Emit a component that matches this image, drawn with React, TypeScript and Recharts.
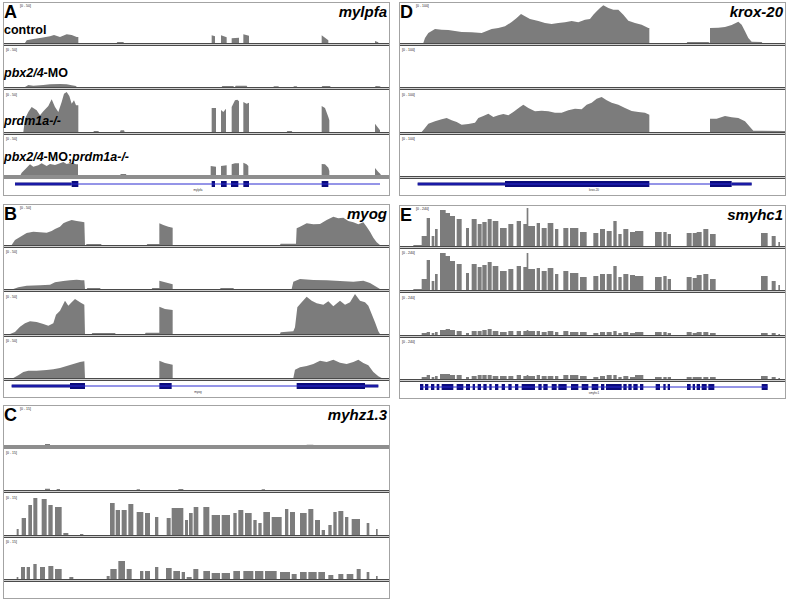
import React from 'react';
import { AreaChart, Area, XAxis, YAxis, ComposedChart, Line, ReferenceArea, ReferenceLine } from 'recharts';

type Pt = [number, number];
type Span = [number, number];
type Seg3 = [number, number, number];

// read coverage: [genomic position, depth]

// A  mylpfa
const mylpfaControl: Pt[] = [
  [75, 0], [80, 8], [100, 12], [125, 16], [150, 20], [162, 24], [180, 18], [200, 26], [215, 24], [230, 18], [235, 18], [235, 0],
  [350, 0], [352, 3], [370, 3], [372, 0],
  [635, 0], [635, 23], [645, 20], [645, 0], [663, 0], [663, 23], [680, 17], [680, 0], [695, 0], [695, 14], [717, 16], [717, 0],
  [730, 0], [730, 26], [747, 22], [747, 0], [965, 0], [965, 23], [985, 8], [985, 0], [1125, 0], [1125, 6], [1135, 2], [1135, 0],
];
const mylpfaPbx: Pt[] = [
  [75, 0], [85, 6], [100, 4], [130, 6], [150, 8], [180, 9], [200, 8], [215, 5], [228, 3], [230, 0],
  [665, 0], [667, 3], [700, 3], [702, 0], [705, 0], [707, 4], [740, 4], [742, 0], [820, 0], [822, 2], [835, 2], [837, 0],
  [880, 0], [882, 2], [890, 2], [892, 0], [965, 0], [967, 3], [990, 3], [992, 0], [1125, 0], [1127, 3], [1140, 2], [1142, 0],
];
const mylpfaPrdm: Pt[] = [
  [70, 0], [75, 40], [85, 60], [95, 75], [110, 65], [120, 50], [130, 62], [145, 78], [155, 98], [165, 75], [175, 60], [185, 90],
  [192, 115], [200, 120], [208, 108], [215, 85], [222, 95], [228, 80], [235, 80], [235, 0],
  [280, 0], [282, 3], [295, 3], [297, 0], [360, 0], [362, 5], [372, 5], [374, 0],
  [635, 0], [635, 72], [648, 72], [648, 0], [663, 0], [663, 66], [670, 60], [678, 70], [678, 0],
  [695, 0], [695, 75], [705, 95], [712, 97], [717, 92], [717, 0], [730, 0], [730, 90], [740, 85], [747, 88], [747, 0],
  [860, 0], [862, 3], [875, 3], [877, 0], [965, 0], [965, 78], [975, 72], [985, 45], [988, 35], [988, 0],
  [1125, 0], [1125, 25], [1140, 5], [1140, 0],
];
const mylpfaDouble: Pt[] = [
  [60, 0], [65, 10], [80, 25], [90, 35], [100, 28], [115, 32], [125, 38], [140, 30], [150, 36], [165, 33], [180, 38], [190, 42],
  [200, 36], [215, 40], [228, 35], [234, 35], [234, 0], [360, 0], [362, 6], [378, 6], [380, 0],
  [632, 0], [632, 30], [648, 28], [648, 0], [663, 0], [663, 30], [680, 32], [680, 0], [695, 0], [695, 35], [705, 38], [717, 38], [717, 0],
  [730, 0], [730, 40], [740, 35], [745, 30], [745, 0], [965, 0], [965, 36], [975, 35], [985, 25], [988, 15], [988, 0],
  [1125, 0], [1125, 24], [1135, 12], [1142, 5], [1142, 0],
];
const mylpfaUtr: Span[] = [[45, 215]];
const mylpfaCds: Span[] = [[215, 235], [635, 645], [663, 680], [693, 715], [730, 747], [965, 985]];

// B  myog
const myogControl: Pt[] = [
  [35, 0], [45, 15], [60, 24], [80, 36], [100, 40], [120, 38], [140, 37], [155, 42], [165, 48], [180, 55], [190, 65], [200, 70],
  [215, 75], [230, 72], [245, 70], [253, 68], [255, 0], [258, 0], [260, 3], [303, 3], [305, 0],
  [440, 0], [442, 3], [478, 3], [478, 65], [490, 60], [505, 55], [518, 52], [518, 0],
  [840, 0], [842, 4], [888, 4], [890, 50], [900, 55], [920, 65], [940, 62], [960, 63], [980, 75], [1000, 85], [1015, 80],
  [1030, 82], [1045, 72], [1060, 68], [1075, 62], [1090, 68], [1100, 55], [1110, 40], [1120, 22], [1130, 8], [1140, 0],
];
const myogPbx: Pt[] = [
  [40, 0], [55, 5], [80, 10], [120, 11], [150, 13], [165, 20], [190, 24], [210, 26], [230, 28], [245, 26], [253, 26], [255, 0],
  [260, 0], [262, 3], [300, 3], [302, 0], [455, 0], [457, 3], [478, 3], [478, 25], [495, 20], [518, 14], [518, 0],
  [660, 0], [662, 3], [700, 3], [702, 0],
  [875, 0], [880, 22], [900, 30], [940, 27], [980, 26], [1020, 24], [1060, 22], [1090, 25], [1110, 18], [1130, 6], [1140, 0],
];
const myogPrdm: Pt[] = [
  [30, 0], [45, 6], [60, 22], [75, 32], [90, 38], [110, 36], [130, 30], [145, 25], [160, 32], [168, 58], [180, 70], [195, 100],
  [205, 85], [215, 95], [225, 105], [240, 95], [253, 88], [255, 0], [275, 0], [277, 3], [345, 3], [347, 0],
  [435, 0], [437, 4], [478, 4], [478, 82], [495, 75], [518, 72], [518, 0],
  [840, 0], [842, 5], [880, 8], [885, 20], [892, 80], [905, 95], [920, 112], [935, 100], [950, 92], [970, 88], [985, 98],
  [1000, 83], [1020, 100], [1035, 88], [1050, 95], [1065, 120], [1080, 100], [1095, 95], [1105, 85], [1115, 60], [1125, 35],
  [1135, 8], [1140, 0],
];
const myogDouble: Pt[] = [
  [40, 0], [55, 8], [70, 18], [85, 22], [110, 22], [140, 24], [160, 26], [180, 30], [200, 36], [220, 42], [240, 48], [253, 50], [255, 0],
  [478, 0], [478, 52], [495, 45], [518, 40], [518, 0],
  [880, 0], [885, 25], [900, 32], [920, 36], [940, 42], [960, 52], [980, 48], [1000, 55], [1020, 46], [1040, 42], [1060, 48],
  [1075, 55], [1090, 45], [1105, 38], [1120, 18], [1135, 5], [1145, 0],
];
const myogUtr: Span[] = [[35, 210], [1095, 1135]];
const myogCds: Span[] = [[210, 255], [478, 515], [890, 1095]];

// C  myhz1.3  [start, end, depth]
const myhzControl: Seg3[] = [[70, 90, 3], [135, 150, 6], [170, 180, 3], [415, 450, 3], [815, 850, 3], [920, 940, 4], [1070, 1080, 3]];
const myhzPbx: Seg3[] = [[135, 150, 4], [170, 180, 3], [410, 420, 2], [535, 550, 3], [785, 795, 2]];
const myhzPrdm: Seg3[] = [
  [50, 56, 18], [65, 78, 51], [85, 96, 90], [100, 112, 111], [125, 140, 108], [145, 158, 90], [165, 185, 84], [190, 205, 6],
  [240, 250, 3], [330, 344, 96], [347, 360, 75], [365, 380, 75], [385, 400, 93], [410, 430, 69], [435, 450, 66], [465, 475, 54],
  [500, 512, 51], [515, 550, 81], [555, 564, 45], [567, 578, 66], [581, 595, 84], [610, 628, 84], [635, 660, 60], [665, 690, 60],
  [700, 710, 66], [715, 730, 75], [735, 755, 66], [760, 770, 45], [775, 785, 36], [790, 810, 69], [815, 845, 54], [855, 865, 78],
  [870, 885, 69], [900, 920, 66], [925, 940, 78], [945, 960, 45], [965, 975, 15], [985, 995, 30], [1000, 1010, 69],
  [1015, 1030, 72], [1035, 1045, 54], [1055, 1080, 48], [1100, 1108, 36], [1128, 1133, 18],
];
const myhzDouble: Seg3[] = [
  [50, 55, 6], [63, 75, 36], [80, 90, 36], [100, 110, 45], [120, 135, 36], [145, 160, 39], [165, 185, 30], [208, 220, 6],
  [320, 329, 9], [331, 350, 30], [355, 375, 54], [380, 395, 30], [420, 430, 24], [435, 450, 24], [465, 475, 36], [498, 515, 33],
  [520, 540, 24], [545, 555, 21], [560, 575, 6], [580, 595, 30], [610, 630, 24], [635, 660, 18], [665, 690, 18], [700, 720, 24],
  [730, 760, 24], [765, 790, 24], [795, 830, 24], [840, 870, 21], [875, 890, 15], [900, 920, 21], [925, 950, 21], [955, 975, 21],
  [985, 1000, 12], [1015, 1030, 15], [1040, 1060, 15], [1070, 1082, 30], [1100, 1108, 21], [1128, 1133, 9],
];

// D  krox-20
const kroxControl: Pt[] = [
  [85, 0], [90, 15], [100, 30], [120, 42], [140, 40], [160, 39], [180, 36], [200, 33], [230, 32], [260, 30], [275, 36], [290, 42],
  [310, 45], [330, 50], [350, 63], [365, 75], [378, 87], [390, 80], [405, 72], [430, 66], [450, 60], [470, 57], [490, 60],
  [510, 62], [530, 66], [550, 62], [570, 70], [585, 72], [595, 85], [605, 95], [615, 105], [625, 113], [640, 105], [655, 100],
  [670, 100], [685, 85], [700, 67], [720, 60], [740, 55], [760, 45], [763, 45], [763, 0],
  [875, 0], [877, 3], [940, 3], [945, 0], [945, 45], [970, 46], [990, 48], [1010, 54], [1030, 64], [1040, 55], [1050, 35],
  [1060, 15], [1070, 4], [1100, 3], [1102, 0],
];
const kroxPbx: Pt[] = [];
const kroxPrdm: Pt[] = [
  [80, 0], [90, 12], [100, 25], [120, 32], [140, 38], [155, 42], [170, 35], [185, 30], [200, 22], [220, 24], [240, 28], [250, 42],
  [265, 48], [280, 55], [295, 45], [310, 50], [325, 54], [340, 50], [355, 60], [375, 75], [385, 82], [400, 72], [420, 62],
  [440, 64], [460, 62], [480, 58], [500, 58], [520, 65], [540, 70], [560, 68], [575, 82], [590, 88], [605, 100], [620, 105],
  [635, 95], [650, 88], [670, 82], [690, 72], [710, 63], [730, 60], [750, 58], [763, 52], [763, 0],
  [945, 0], [945, 40], [965, 40], [990, 48], [1010, 44], [1030, 42], [1050, 32], [1065, 15], [1075, 4], [1170, 3],
];
const kroxDouble: Pt[] = [];
const kroxUtr: Span[] = [[68, 330], [1010, 1070]];
const kroxCds: Span[] = [[330, 763], [945, 1010]];

// E  smyhc1: covered exons, depth per exon for each sample
const smyhcExons: Span[] = [
  [55, 80], [80, 95], [95, 105], [110, 118], [120, 128], [135, 152], [152, 165], [165, 180], [185, 200], [213, 222], [230, 245],
  [248, 260], [262, 275], [278, 290], [293, 310], [315, 335], [340, 355], [365, 378], [385, 395], [395, 400], [400, 420],
  [425, 435], [440, 455], [458, 475], [480, 490], [505, 520], [525, 550], [555, 575], [595, 610], [615, 630], [635, 650],
  [655, 665], [670, 680], [685, 700], [705, 720], [720, 745], [780, 800], [805, 815], [818, 828], [875, 890], [893, 905],
  [905, 920], [925, 940], [945, 962], [1098, 1118], [1130, 1142], [1150, 1155],
];
const smyhcControl = [3, 30, 84, 30, 51, 108, 99, 90, 81, 54, 81, 66, 72, 81, 75, 54, 66, 75, 66, 114, 60, 69, 54, 69, 51, 54, 54, 42, 39, 51, 45, 75, 36, 51, 42, 45, 42, 42, 36, 39, 39, 42, 51, 36, 39, 30, 12];
const smyhcPbx = [3, 33, 90, 27, 48, 111, 102, 87, 78, 51, 78, 69, 75, 84, 72, 57, 63, 72, 69, 111, 63, 66, 57, 66, 48, 57, 51, 39, 42, 48, 48, 72, 39, 48, 45, 42, 39, 42, 33, 39, 36, 45, 48, 33, 42, 27, 15];
const smyhcPrdm = [0, 6, 9, 6, 9, 15, 18, 15, 12, 6, 12, 12, 15, 18, 12, 9, 12, 12, 12, 15, 12, 12, 9, 12, 9, 12, 9, 9, 6, 9, 9, 12, 6, 9, 6, 9, 9, 9, 6, 9, 6, 9, 9, 6, 6, 6, 3];
const smyhcDouble = [0, 6, 12, 6, 9, 15, 15, 12, 12, 6, 9, 12, 12, 12, 9, 9, 9, 12, 9, 12, 9, 12, 9, 9, 9, 12, 12, 9, 6, 9, 12, 12, 6, 9, 6, 12, 6, 6, 6, 6, 6, 6, 6, 6, 9, 6, 3];
const smyhcCds: Span[] = [
  [75, 85], [90, 100], [108, 118], [125, 133], [140, 175], [185, 205], [213, 225], [233, 240], [248, 258], [265, 275], [283, 290],
  [300, 310], [320, 330], [340, 350], [360, 370], [380, 420], [430, 440], [445, 458], [470, 485], [490, 515], [528, 550],
  [560, 580], [590, 610], [618, 628], [633, 680], [685, 695], [700, 710], [715, 728], [735, 745], [782, 795], [805, 812],
  [818, 825], [876, 887], [893, 900], [905, 915], [920, 935], [940, 958], [1100, 1118],
];

const fromSeg3 = (s: Seg3[]): Pt[] => s.flatMap(([a, b, h]) => [[a, 0], [a, h], [b, h], [b, 0]] as Pt[]);
const fromExons = (ex: Span[], d: number[]): Pt[] => ex.flatMap(([a, b], i) => [[a, 0], [a, d[i]], [b, d[i]], [b, 0]] as Pt[]);

const W = 387;
const H = 194;
const BASE = [41, 85, 130, 174];
const FONT = "'Liberation Sans', Arial, sans-serif";

const panels = [
  { id: 'A', gene: 'mylpfa', left: 3, top: 2, x0: 12, scale: '[0 - 50]', tracks: [mylpfaControl, mylpfaPbx, mylpfaPrdm, mylpfaDouble], band: [false, false, false, true], utr: mylpfaUtr, cds: mylpfaCds, span: [45, 1140] },
  { id: 'D', gene: 'krox-20', left: 399, top: 2, x0: 15, scale: '[0 - 100]', tracks: [kroxControl, kroxPbx, kroxPrdm, kroxDouble], band: [false, false, false, false], utr: kroxUtr, cds: kroxCds, span: [68, 1070] },
  { id: 'B', gene: 'myog', left: 3, top: 204, x0: 12, scale: '[0 - 50]', tracks: [myogControl, myogPbx, myogPrdm, myogDouble], band: [false, false, false, false], utr: myogUtr, cds: myogCds, span: [35, 1135] },
  { id: 'E', gene: 'smyhc1', left: 399, top: 205, x0: 15, scale: '[0 - 240]', tracks: [fromExons(smyhcExons, smyhcControl), fromExons(smyhcExons, smyhcPbx), fromExons(smyhcExons, smyhcPrdm), fromExons(smyhcExons, smyhcDouble)], band: [false, false, false, false], utr: [] as Span[], cds: smyhcCds, span: [75, 1118] },
  { id: 'C', gene: 'myhz1.3', left: 3, top: 405, x0: 12, scale: '[0 - 15]', tracks: [fromSeg3(myhzControl), fromSeg3(myhzPbx), fromSeg3(myhzPrdm), fromSeg3(myhzDouble)], band: [true, false, false, false], utr: [] as Span[], cds: [] as Span[], span: null as null | number[] },
];

const Track = ({ points, x0, left, top }: { points: Pt[]; x0: number; left: number; top: number }) => (
  <div style={{ position: 'absolute', left, top }}>
    <AreaChart width={385} height={40} data={points.map(([x, y]) => ({ x, y }))} margin={{ top: 0, right: 0, bottom: 0, left: 0 }}>
      <XAxis dataKey="x" type="number" domain={[x0, x0 + 1155]} hide allowDataOverflow />
      <YAxis type="number" domain={[0, 120]} hide allowDataOverflow />
      <Area type="linear" dataKey="y" stroke="none" fill="#7c7c7c" fillOpacity={1} isAnimationActive={false} />
    </AreaChart>
  </div>
);

const GeneModel = ({ p }: { p: (typeof panels)[number] }) => (
  <div style={{ position: 'absolute', left: p.left + 1, top: p.top + 177 }}>
    <ComposedChart width={385} height={10} data={[{ x: p.x0, y: 0 }, { x: p.x0 + 1155, y: 0 }]} margin={{ top: 0, right: 0, bottom: 0, left: 0 }}>
      <XAxis dataKey="x" type="number" domain={[p.x0, p.x0 + 1155]} hide />
      <YAxis type="number" domain={[0, 10]} hide />
      <Line dataKey="y" stroke="none" dot={false} isAnimationActive={false} />
      {p.span && (
        <ReferenceLine segment={[{ x: p.span[0], y: 5 }, { x: p.span[1], y: 5 }]} stroke="#2b2bd0" strokeWidth={1} />
      )}
      {p.utr.map(([a, b]) => (
        <ReferenceArea key={'u' + a} x1={a} x2={b} y1={3.5} y2={6.5} fill="#0b0b7c" fillOpacity={1} stroke="none" />
      ))}
      {p.cds.map(([a, b]) => (
        <ReferenceArea key={'c' + a} x1={a} x2={b} y1={2} y2={8} fill="#0b0b7c" fillOpacity={1} stroke="none" />
      ))}
    </ComposedChart>
  </div>
);

export default function App() {
  return (
    <div style={{ position: 'absolute', left: 0, top: 0, width: 789, height: 599, background: '#fff' }}>
      {panels.map((p) =>
        p.tracks.map((t, i) => <Track key={p.id + i} points={t} x0={p.x0} left={p.left + 1} top={p.top + BASE[i] - 40} />)
      )}
      {panels.map((p) => <GeneModel key={'g' + p.id} p={p} />)}
      <svg width={789} height={599} style={{ position: 'absolute', left: 0, top: 0, pointerEvents: 'none' }} fontFamily={FONT}>
        {panels.map((p) => (
          <g key={'f' + p.id}>
            <rect x={p.left + 0.5} y={p.top + 0.5} width={W - 1} height={H - 1} fill="none" stroke="#a3a3a3" />
            {BASE.map((b, i) =>
              p.band[i] ? (
                <rect key={i} x={p.left + 1} y={p.top + b - 1} width={W - 2} height={4} fill="#8e8e8e" />
              ) : (
                <g key={i}>
                  <line x1={p.left + 1} x2={p.left + W - 1} y1={p.top + b + 0.5} y2={p.top + b + 0.5} stroke="#4a4a4a" />
                  <line x1={p.left + 1} x2={p.left + W - 1} y1={p.top + b + 1.5} y2={p.top + b + 1.5} stroke="#cfcfcf" />
                  <line x1={p.left + 1} x2={p.left + W - 1} y1={p.top + b + 2.5} y2={p.top + b + 2.5} stroke="#4a4a4a" />
                </g>
              )
            )}
            {BASE.map((b, i) => (
              <text key={'s' + i} x={p.left + (i === 0 ? 17 : 3)} y={p.top + b - 36} fontSize={3.5} fill="#222">
                {p.scale}
              </text>
            ))}
            <text x={p.left + 1} y={p.top + 16} fontSize={18} fontWeight="bold" fill="#000">
              {p.id}
            </text>
            <text x={p.left + W - 3} y={p.top + 15} fontSize={15} fontWeight="bold" fontStyle="italic" textAnchor="end" fill="#000">
              {p.gene}
            </text>
            {p.span && (
              <text x={p.left + 195} y={p.top + 189} fontSize={3} fill="#333" textAnchor="middle">
                {p.gene}
              </text>
            )}
          </g>
        ))}
        <g fontSize={12.5} fontWeight="bold" fill="#000">
          <text x={4} y={34}>control</text>
          <text x={4} y={77}>
            <tspan fontStyle="italic">pbx2/4</tspan>-MO
          </text>
          <text x={4} y={125} fontStyle="italic">prdm1a-/-</text>
          <text x={4} y={161}>
            <tspan fontStyle="italic">pbx2/4</tspan>-MO;<tspan fontStyle="italic">prdm1a-/-</tspan>
          </text>
        </g>
      </svg>
    </div>
  );
}
